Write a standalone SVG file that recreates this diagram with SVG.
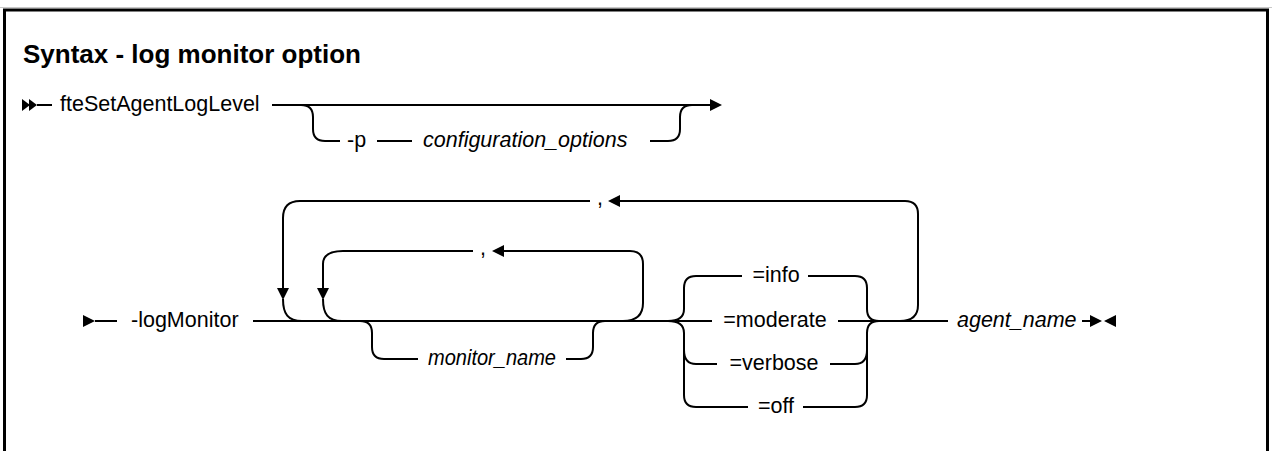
<svg xmlns="http://www.w3.org/2000/svg" width="1272" height="451" viewBox="0 0 1272 451">
<style>
.t{font-family:"Liberation Sans",Arial,sans-serif;font-size:21.5px;fill:#000}
.i{font-style:italic}
.h{font-family:"Liberation Sans",Arial,sans-serif;font-size:26px;font-weight:bold;fill:#000}
.c{fill:none;stroke:#000;stroke-width:2}
.a{fill:#000}
</style>
<rect width="1272" height="451" fill="#fff"/>
<line x1="0" y1="7.5" x2="1272" y2="7.5" stroke="#c8c8c8" stroke-width="1"/>
<path d="M4.5,460 V10 H1267.5 V460" fill="none" stroke="#000" stroke-width="3"/>
<g id="title"><text class="h" x="23" y="63">Syntax - log monitor option</text></g>
<g id="cmd"><text class="t" x="60" y="111">fteSetAgentLogLevel</text></g>
<g id="opt-p"><text class="t" x="347" y="147">-p</text></g>
<g id="config-options"><text class="t i" x="423" y="147">configuration_options</text></g>
<g id="logMonitor"><text class="t" x="131" y="327">-logMonitor</text></g>
<g id="comma-outer"><text class="t" x="597" y="205">,</text></g>
<g id="comma-inner"><text class="t" x="480" y="255">,</text></g>
<g id="monitor-name"><text class="t i" x="428" y="365" textLength="128" lengthAdjust="spacingAndGlyphs">monitor_name</text></g>
<g id="info"><text class="t" x="776" y="282" text-anchor="middle">=info</text></g>
<g id="moderate"><text class="t" x="775" y="327" text-anchor="middle">=moderate</text></g>
<g id="verbose"><text class="t" x="774" y="370" text-anchor="middle">=verbose</text></g>
<g id="off"><text class="t" x="776" y="413" text-anchor="middle">=off</text></g>
<g id="agent-name"><text class="t i" x="957" y="327">agent_name</text></g>
<g id="connectors">
<polygon class="a" points="22,99 30,105 22,111"/>
<polygon class="a" points="29,99 37,105 29,111"/>
<path class="c" d="M37,105 H52"/>
<path class="c" d="M272,105 H710"/>
<polygon class="a" points="710,99 722,105 710,111"/>
<path class="c" d="M301,105 Q313,105 313,117 V129 Q313,141 325,141 H340"/>
<path class="c" d="M377,141 H412"/>
<path class="c" d="M650,141 H668 Q680,141 680,129 V117 Q680,105 692,105"/>
<polygon class="a" points="83,315 95,321 83,327"/>
<path class="c" d="M95,321 H117"/>
<path class="c" d="M253,321 H672"/>
<path class="c" d="M360,321 Q372,321 372,333 V347 Q372,359 384,359 H418"/>
<path class="c" d="M566,359 H581 Q593,359 593,347 V333 Q593,321 605,321"/>
<path class="c" d="M623,321 Q643,321 643,303 V264 Q643,251 630,251 H504"/>
<polygon class="a" points="492,251 504,245 504,257"/>
<path class="c" d="M473,251 H343 Q323,251 323,264 V289"/>
<polygon class="a" points="317,288 329,288 323,300"/>
<path class="c" d="M323,299 C323,314 328,321 342,321"/>
<path class="c" d="M900,321 Q918,321 918,305 V214 Q918,201 905,201 H620"/>
<polygon class="a" points="608,201 620,195 620,207"/>
<path class="c" d="M590,201 H300 Q283,201 283,218 V289"/>
<polygon class="a" points="277,288 289,288 283,300"/>
<path class="c" d="M283,299 C283,314 288,321 302,321"/>
<path class="c" d="M668,321 Q684,321 684,309 V288 Q684,276 696,276 H742"/>
<path class="c" d="M668,321 Q684,321 684,333 V395 Q684,407 696,407 H748"/>
<path class="c" d="M684,350 Q684,364 696,364 H717"/>
<path class="c" d="M672,321 H712"/>
<path class="c" d="M808,276 H855 Q867,276 867,288 V309 Q867,321 879,321"/>
<path class="c" d="M803,407 H855 Q867,407 867,395 V333 Q867,321 879,321"/>
<path class="c" d="M830,364 H855 Q867,364 867,350"/>
<path class="c" d="M838,321 H948"/>
<path class="c" d="M1082,321 H1092"/>
<polygon class="a" points="1090,315 1102,321 1090,327"/>
<polygon class="a" points="1116,315 1104,321 1116,327"/>
</g>
</svg>
